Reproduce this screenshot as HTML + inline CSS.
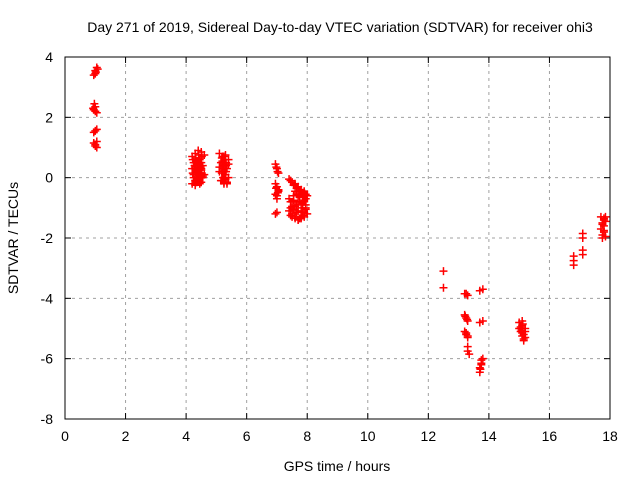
<!DOCTYPE html>
<html><head><meta charset="utf-8"><style>
body{margin:0;background:#fff;}
svg text{font-family:"Liberation Sans",sans-serif;font-size:14px;fill:#000;}
</style></head><body>
<svg id="chart" width="640" height="480">
<text x="340" y="32" text-anchor="middle">Day 271 of 2019, Sidereal Day-to-day VTEC variation (SDTVAR) for receiver ohi3</text>
<text x="337" y="471" text-anchor="middle">GPS time / hours</text>
<text transform="translate(18,238) rotate(-90)" text-anchor="middle">SDTVAR / TECUs</text>
<g id="grid"></g><g id="marks"></g>
<rect x="65" y="57" width="545" height="362" fill="none" stroke="#000" stroke-width="1"/>
</svg>
<script>
const xTicks=[0,2,4,6,8,10,12,14,16,18];
const yTicks=[-8,-6,-4,-2,0,2,4];
const xs=[0.95,1.0,1.05,1.02,0.97,1.0,0.95,1.0,1.05,1.05,1.0,0.95,1.05,1.0,0.95,1.0,1.05,1.08,1.0,0.93,
4.2,4.3,4.4,4.5,4.6,4.25,4.35,4.45,4.55,4.2,4.3,4.4,4.5,4.25,4.35,4.45,4.55,4.3,4.4,4.5,4.2,4.3,4.4,4.5,4.35,4.45,4.6,4.25,4.4,
4.22,4.32,4.42,4.52,4.28,4.38,4.48,4.22,4.32,4.42,4.52,4.28,4.38,4.48,4.35,4.45,4.3,4.4,4.5,4.35,4.45,4.55,
5.1,5.2,5.3,5.4,5.15,5.25,5.35,5.1,5.2,5.3,5.4,5.15,5.25,5.35,5.2,5.3,5.1,5.2,5.3,5.4,5.25,5.35,
5.18,5.28,5.22,5.32,5.18,5.28,5.22,5.32,5.18,5.28,5.22,5.32,5.25,5.25,
6.95,7.0,7.05,6.95,7.0,7.05,6.95,7.0,7.0,7.05,6.95,7.0,6.98,7.02,6.97,7.03,
7.4,7.5,7.6,7.7,7.8,7.9,8.0,7.4,7.45,7.5,7.4,7.45,7.5,7.6,7.7,7.8,7.9,8.0,7.95,7.9,7.85,7.7,7.6,7.75,7.85,7.95,7.8,7.7,7.55,7.65,
7.45,7.55,7.65,7.75,7.85,7.95,7.5,7.6,7.7,7.8,7.9,7.55,7.65,7.75,7.85,7.95,7.6,7.7,7.8,7.9,7.45,7.55,7.65,7.85,7.95,7.75,7.85,7.9,
12.5,12.5,
13.2,13.25,13.3,13.2,13.25,13.3,13.2,13.25,13.3,13.3,13.3,13.35,13.22,13.28,13.25,13.3,
13.7,13.8,13.7,13.8,13.8,13.75,13.7,13.7,13.75,13.75,13.72,
15.0,15.1,15.2,15.05,15.15,15.1,15.0,15.1,15.2,15.15,15.2,15.05,15.1,15.15,15.08,15.12,
16.8,16.8,16.8,17.1,17.1,17.1,17.1,
17.7,17.8,17.85,17.75,17.8,17.7,17.8,17.75,17.85,17.75,17.8,17.85,17.75,17.8];
const ys=[3.4,3.55,3.65,3.5,2.45,2.35,2.25,2.2,2.15,1.6,1.55,1.5,1.2,1.1,1.15,1.05,1.0,3.6,3.45,2.3,
0.7,0.8,0.9,0.85,0.75,0.5,0.55,0.6,0.4,0.3,0.35,0.2,0.25,0.1,0.15,0.0,0.05,-0.1,-0.05,-0.15,-0.2,-0.25,0.45,0.3,-0.15,0.65,0.1,0.0,0.2,
0.6,0.65,0.75,0.7,0.4,0.45,0.35,0.15,0.2,0.25,0.15,0.3,0.05,0.1,-0.05,-0.2,0.5,0.55,0.5,0.25,0.35,0.0,
0.8,0.7,0.75,0.6,0.5,0.4,0.3,0.2,0.25,0.1,0.0,-0.1,-0.2,-0.15,0.55,-0.05,0.35,0.3,0.2,0.45,0.0,-0.2,
0.65,0.6,0.45,0.4,0.15,0.1,0.0,0.2,-0.1,-0.05,0.35,0.5,0.7,-0.15,
0.45,0.3,0.15,-0.2,-0.3,-0.45,-0.55,-0.7,-0.6,-0.4,-1.2,-1.15,0.35,0.2,-0.35,-0.5,
-0.05,-0.15,-0.2,-0.3,-0.4,-0.5,-0.6,-0.7,-0.8,-0.95,-1.1,-1.25,-1.3,-1.35,-1.4,-1.35,-1.3,-1.2,-1.0,-0.8,-0.6,-0.55,-0.45,-0.65,-0.85,-1.05,-1.15,-1.1,-0.75,-0.9,
-0.1,-0.25,-0.35,-0.45,-0.5,-0.7,-1.2,-1.3,-1.4,-1.3,-1.15,-0.6,-0.55,-0.6,-0.65,-0.9,-0.95,-0.8,-0.9,-0.75,-1.0,-1.05,-1.15,-1.25,-0.55,-1.35,-1.0,-0.45,
-3.1,-3.65,
-3.85,-3.85,-3.9,-4.55,-4.65,-4.75,-5.1,-5.2,-5.3,-5.6,-5.75,-5.85,-4.6,-4.7,-5.15,-5.25,
-3.75,-3.7,-4.8,-4.75,-6.0,-6.15,-6.3,-6.45,-6.2,-6.05,-6.35,
-4.8,-4.9,-5.0,-5.1,-5.2,-5.25,-5.0,-4.75,-5.3,-5.4,-5.1,-4.95,-5.15,-5.35,-5.05,-4.85,
-2.6,-2.75,-2.9,-1.85,-2.0,-2.4,-2.55,
-1.3,-1.35,-1.45,-1.55,-1.6,-1.7,-1.8,-1.9,-1.95,-2.0,-1.4,-1.3,-1.5,-1.75];
const X=v=>65+v*545/18, Y=v=>419-(v+8)*362/12;
const ns="http://www.w3.org/2000/svg";
const grid=document.getElementById('grid'),marks=document.getElementById('marks');
function mk(t,a,p){const e=document.createElementNS(ns,t);for(const k in a)e.setAttribute(k,a[k]);p.appendChild(e);return e;}
xTicks.forEach(t=>{const x=X(t);
 if(t>0&&t<18){const g=mk('line',{x1:x,x2:x,y1:57,y2:419,stroke:'#a0a0a0','stroke-dasharray':'3,4'},grid);
 
 }
 mk('line',{x1:x,x2:x,y1:419,y2:413,stroke:'#000'},grid);mk('line',{x1:x,x2:x,y1:57,y2:63,stroke:'#000'},grid);
 const l=mk('text',{x:x,y:441,'text-anchor':'middle'},grid);l.textContent=t;
 
 });
yTicks.forEach(t=>{const y=Y(t);
 if(t>-8&&t<4){const g=mk('line',{x1:65,x2:610,y1:y,y2:y,stroke:'#a0a0a0','stroke-dasharray':'3,4'},grid);
 
 }
 mk('line',{x1:65,x2:71,y1:y,y2:y,stroke:'#000'},grid);mk('line',{x1:610,x2:604,y1:y,y2:y,stroke:'#000'},grid);
 const l=mk('text',{x:53,y:y+5,'text-anchor':'end'},grid);l.textContent=t;
 
 });
xs.forEach((v,i)=>{const x=X(v),y=Y(ys[i]);
 const p=mk('path',{d:`M${x-4},${y}H${x+4}M${x},${y-4}V${y+4}`,stroke:'#ff0000','stroke-width':1.5},marks);
 
 });
</script>
</body></html>
